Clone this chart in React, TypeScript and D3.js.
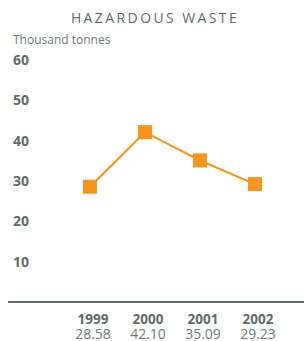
import React, { useRef, useEffect } from "react";
import * as d3 from "d3";

const years: string[] = ["1999", "2000", "2001", "2002"];
const values: number[] = [28.58, 42.1, 35.09, 29.23];
const valueLabels: string[] = ["28.58", "42.10", "35.09", "29.23"];
const yTicks: number[] = [10, 20, 30, 40, 50, 60];

function HazardousWaste() {
    const svgRef = useRef<SVGSVGElement>(null);

    useEffect(() => {
        const width = 304;
        const height = 341;
        const svg = d3.select(svgRef.current);
        svg.selectAll("*").remove();
        svg.attr("width", width).attr("height", height);

        const font = "'Open Sans', 'DejaVu Sans', sans-serif";
        const dark = "#5d6b67";
        const orange = "#f7941d";

        const y = d3.scaleLinear().domain([0, 60]).range([302, 60]);
        const x = d3.scalePoint<string>().domain(years).range([90, 255]);

        svg.append("text")
            .attr("x", 155)
            .attr("y", 23)
            .attr("text-anchor", "middle")
            .style("font-family", font)
            .style("font-size", "14px")
            .style("letter-spacing", "2.4px")
            .attr("fill", dark)
            .text("HAZARDOUS WASTE");

        svg.append("text")
            .attr("x", 13)
            .attr("y", 44)
            .style("font-family", font)
            .style("font-size", "12px")
            .attr("fill", "#6e7a77")
            .text("Thousand tonnes");

        svg.append("g")
            .selectAll("text")
            .data(yTicks)
            .enter()
            .append("text")
            .attr("x", 13)
            .attr("y", (d) => y(d))
            .attr("dy", "0.35em")
            .style("font-family", font)
            .style("font-size", "14px")
            .style("font-weight", "bold")
            .attr("fill", dark)
            .text((d) => d);

        svg.append("line")
            .attr("x1", 8)
            .attr("x2", width)
            .attr("y1", y(0))
            .attr("y2", y(0))
            .attr("stroke", dark)
            .attr("stroke-width", 2);

        const pts = years.map((yr, i) => ({ yr, v: values[i] }));

        const line = d3.line<{ yr: string; v: number }>()
            .x((d) => x(d.yr) as number)
            .y((d) => y(d.v));

        svg.append("path")
            .datum(pts)
            .attr("d", line)
            .attr("fill", "none")
            .attr("stroke", orange)
            .attr("stroke-width", 2);

        const size = 14;
        svg.append("g")
            .selectAll("rect")
            .data(pts)
            .enter()
            .append("rect")
            .attr("x", (d) => (x(d.yr) as number) - size / 2)
            .attr("y", (d) => y(d.v) - size / 2)
            .attr("width", size)
            .attr("height", size)
            .attr("fill", orange);

        svg.append("g")
            .selectAll("text")
            .data(years)
            .enter()
            .append("text")
            .attr("x", (d) => (x(d) as number) + 3)
            .attr("y", 324)
            .attr("text-anchor", "middle")
            .style("font-family", font)
            .style("font-size", "13.5px")
            .style("font-weight", "bold")
            .attr("fill", dark)
            .text((d) => d);

        svg.append("g")
            .selectAll("text")
            .data(valueLabels)
            .enter()
            .append("text")
            .attr("x", (_, i) => (x(years[i]) as number) + 3)
            .attr("y", 338.5)
            .attr("text-anchor", "middle")
            .style("font-family", font)
            .style("font-size", "14px")
            .attr("fill", "#6e7a77")
            .text((d) => d);
    }, []);

    return <svg ref={svgRef} style={{ display: "block" }}></svg>;
}

export default function App() {
    return (
        <div style={{ position: "absolute", left: 0, top: 0 }}>
            <HazardousWaste />
        </div>
    );
}
